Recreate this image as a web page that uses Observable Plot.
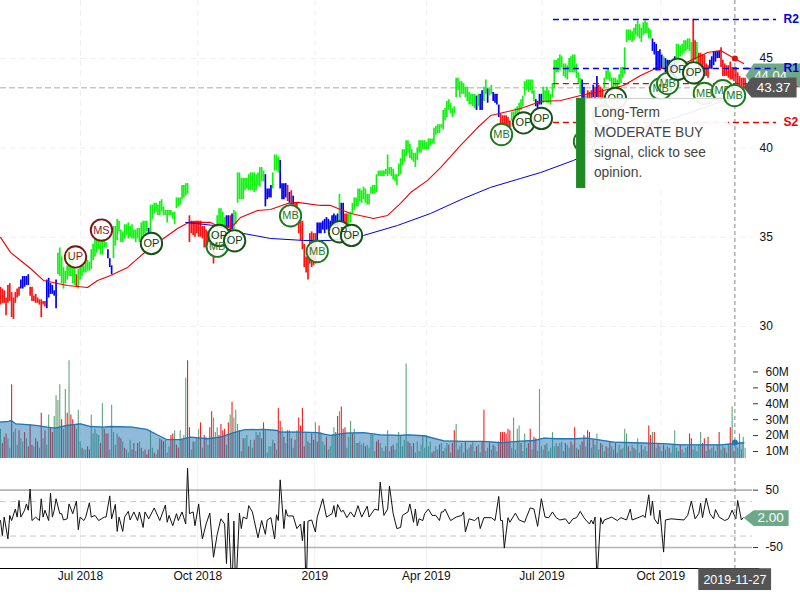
<!DOCTYPE html>
<html><head><meta charset="utf-8">
<style>
html,body{margin:0;padding:0;background:#fff}
#wrap{position:relative;width:800px;height:600px;overflow:hidden;font-family:"Liberation Sans",Arial,sans-serif}
#wrap>div{position:absolute;left:0}
svg{display:block}
</style>
<script src="https://cdn.jsdelivr.net/npm/d3@7"></script>
<script src="https://cdn.jsdelivr.net/npm/@observablehq/plot@0.6"></script>
</head><body>
<div id="wrap"><div id="osc" style="top:460px"></div><div id="vol" style="top:360px"></div><div id="price" style="top:0"></div></div>
<script>
const highs=[
32.2,32.1,32.0,31.6,32.3,32.4,31.9,31.6,31.9,32.1,
32.2,32.6,32.8,32.8,32.8,32.9,32.2,32.2,31.7,31.8,
31.6,31.5,31.5,31.4,31.4,32.6,32.7,32.4,32.3,32.0,
32.6,34.1,34.4,33.9,33.3,33.1,33.4,34.3,34.3,33.7,
33.3,32.9,33.2,33.5,33.6,33.4,33.7,33.7,33.6,34.3,
34.6,34.9,34.9,34.9,34.7,34.9,34.8,34.7,34.3,33.8,
33.4,35.6,35.6,36.0,35.9,35.4,35.3,35.7,35.7,35.8,
35.6,35.7,35.4,35.4,35.5,35.5,35.8,35.9,35.9,35.9,
35.5,36.8,36.8,36.9,36.9,36.8,37.0,37.1,36.7,36.5,
36.5,36.5,36.5,36.4,36.4,37.2,37.2,37.2,37.9,37.9,
38.0,38.0,36.2,35.9,35.9,35.9,35.9,35.9,35.9,35.6,
35.6,35.4,35.3,35.2,35.2,34.4,34.9,36.2,36.6,36.6,
36.4,36.1,36.2,36.2,36.2,36.3,36.5,36.4,38.6,38.6,
38.3,38.3,38.3,38.3,38.5,38.6,38.6,38.6,38.5,38.6,
38.9,38.9,38.7,38.5,37.7,37.7,37.9,38.6,39.6,39.6,
39.5,39.3,38.0,38.0,38.0,37.9,37.5,37.6,37.3,36.9,
36.9,35.9,35.9,35.9,34.6,33.9,34.3,35.2,35.3,35.2,
35.2,35.8,35.8,35.8,35.9,36.0,36.1,36.0,35.9,36.2,
36.3,36.2,36.3,37.4,36.9,36.9,36.3,36.3,36.3,36.4,
36.9,37.2,37.2,37.7,37.7,37.6,37.8,37.7,37.4,37.4,
37.8,37.9,37.9,38.5,38.7,38.7,38.7,38.7,38.8,39.6,
38.9,38.9,38.8,38.5,38.5,39.1,39.4,39.9,39.9,40.4,
40.4,40.2,39.9,39.7,39.7,40.0,40.4,40.4,40.4,40.4,
40.3,40.5,40.5,40.5,41.1,41.2,41.3,41.3,41.3,42.1,
42.2,42.6,42.7,42.5,42.2,42.3,43.9,43.9,43.7,43.7,
43.6,43.4,43.4,43.1,43.0,43.0,43.0,42.9,43.0,43.0,
43.2,43.4,43.8,43.3,43.3,43.5,43.1,43.0,43.0,42.4,
41.9,41.8,41.8,41.8,41.7,41.5,42.0,42.0,42.2,42.3,
42.5,42.7,42.9,43.7,43.8,43.8,43.8,43.8,43.2,42.7,
42.6,43.0,43.0,43.4,43.2,43.4,43.2,43.0,43.6,44.9,
44.9,45.0,45.2,45.1,44.7,44.7,44.6,45.0,45.1,45.2,
45.2,44.7,44.2,43.9,43.8,43.4,42.9,43.2,43.1,43.2,
43.5,43.4,44.0,43.5,43.4,43.3,43.9,44.3,44.4,44.2,
43.9,43.9,43.9,43.8,44.1,44.5,44.5,45.6,46.6,46.6,
46.6,46.5,46.7,46.9,47.1,46.9,46.7,47.0,47.1,47.0,
46.7,46.6,46.1,45.9,45.8,45.4,45.5,45.2,45.1,45.0,
44.9,44.9,44.7,44.7,45.1,45.8,45.8,45.7,45.8,46.0,
46.0,46.1,46.1,45.9,47.2,46.0,45.9,45.3,45.3,45.2,
45.2,44.7,44.6,44.9,45.1,45.4,45.4,45.4,45.4,45.6,
44.9,44.7,44.6,44.6,44.8,44.5,44.5,44.5,44.2,44.0,
43.9,43.9,43.9];
const lows=[
31.2,31.3,31.3,30.6,31.3,31.4,30.5,30.4,31.3,31.6,
31.7,32.1,32.1,32.2,32.3,32.3,31.7,31.4,31.4,31.3,
31.3,31.2,30.5,31.2,31.1,31.0,31.6,31.8,31.8,31.7,
31.0,32.9,32.8,32.4,32.1,32.4,32.6,32.8,32.8,32.4,
32.3,32.2,32.1,32.6,32.8,33.0,33.0,33.1,33.1,33.2,
33.7,33.9,34.1,34.3,34.0,34.0,34.4,34.4,33.8,33.3,
32.9,33.8,34.5,34.8,35.3,34.7,34.7,34.9,35.1,34.9,
35.0,34.9,34.9,34.7,34.9,34.7,34.8,35.1,35.2,35.3,
35.2,35.2,36.0,36.3,36.4,36.2,36.2,36.4,36.2,36.2,
35.8,36.2,36.2,36.0,35.7,36.6,36.7,36.8,37.1,37.2,
37.3,37.4,34.7,35.2,35.1,35.0,35.2,35.0,35.0,34.9,
34.4,34.4,34.4,34.4,34.2,33.5,34.3,35.0,35.6,35.7,
35.5,35.4,35.5,35.5,35.3,35.4,35.4,35.7,36.9,37.1,
37.1,37.1,37.6,37.7,37.6,37.6,37.6,37.5,37.6,37.9,
37.8,38.1,38.1,36.7,37.1,37.2,37.2,37.7,38.7,38.7,
38.6,37.7,37.1,37.1,37.2,37.0,36.9,36.7,36.8,36.1,
36.0,35.2,34.8,34.3,33.3,33.0,32.6,33.5,33.3,33.4,
33.5,34.8,35.2,35.2,35.4,35.2,35.4,35.4,35.4,35.6,
35.6,35.6,35.4,35.6,35.8,35.6,35.4,35.5,35.2,35.8,
36.3,36.5,36.7,36.7,37.0,36.9,37.1,36.9,36.8,36.8,
37.4,37.4,37.4,37.5,38.4,38.4,38.4,38.4,38.5,38.4,
38.5,38.4,38.2,38.1,37.9,38.4,38.5,39.0,39.2,39.5,
39.7,39.4,39.3,39.2,38.9,39.3,39.7,39.7,39.9,39.9,
39.9,39.9,40.1,40.2,40.2,40.7,40.8,40.8,41.1,41.0,
41.5,41.7,42.1,41.9,41.7,41.9,42.8,43.2,42.8,43.0,
43.0,42.8,42.6,42.4,42.4,42.3,42.2,42.1,42.3,42.1,
42.1,42.6,43.0,42.5,42.9,43.0,42.6,42.5,42.4,41.7,
41.3,41.3,41.2,41.2,41.1,41.1,41.5,41.5,41.7,41.9,
42.0,42.1,42.3,42.9,43.2,43.1,43.2,43.0,42.6,42.3,
42.2,42.4,42.4,42.5,42.6,42.5,42.5,42.4,42.8,43.3,
44.2,44.2,44.3,44.5,44.0,43.9,43.8,44.2,44.2,44.2,
44.2,43.9,43.6,43.0,42.7,42.7,42.5,42.7,42.7,42.7,
42.8,42.65,42.8,42.8,42.8,42.8,43.3,43.8,43.8,43.7,
43.0,43.3,43.4,43.3,43.5,43.6,43.9,44.1,45.9,46.0,
46.0,45.9,46.0,46.3,46.2,46.1,45.9,46.3,46.4,46.4,
46.1,46.1,45.4,45.2,44.3,44.3,44.3,44.4,44.4,44.2,
44.2,44.2,44.1,44.1,44.5,44.6,44.7,45.1,45.2,45.3,
45.4,45.5,45.4,44.7,44.8,44.9,44.7,44.1,44.3,44.1,
44.0,44.0,43.9,44.4,44.4,44.6,44.8,45.0,45.0,44.5,
44.0,44.0,44.0,43.9,43.8,43.8,43.7,43.6,43.5,43.4,
43.4,43.3,43.3];
// first bar of each colour run, and its colour
const runStart=[0,11,16,25,31,41,42,58,61,80,81,102,117,122,124,125,126,143,147,151,155,156,157,158,159,171,183,184,186,188,257,258,259,261,263,264,266,270,276,289,293,314,316,317,320,321,322,323,326,352,358,359,365,374,376,377,383,389];
const runColor="r b r b g r g b g b g r g b r b g b g b r b r b r b g b r g b g b g b g b r g b g b g r b r b r g b g b g r g r b r".split(" ");
const barColors={r:"#ff1212",g:"#12f212",b:"#0000f0"};
// moving averages: bar number and price
const maRedBar=[0,5.4,10.8,16.2,23.2,30.8,36.2,47,52.4,59.4,68.6,77.2,88,95.6,101.5,113.4,118.8,125.8,129.6,138.8,145.8,155,160.4,172.8,178.2,189,201.4,209,216,221.4,230.6,237.6,248.4,257.6,264.6,271.6,280.8,291.6,302.4,313.2,325.6,336.4,345.6,353.7,363.4,372.6,381.8,388.8,396.3,401.2];
const maRedVal=[34.99,34.15,33.7,33.25,32.58,32.41,32.3,32.19,32.58,32.86,33.31,34.09,34.93,35.49,35.83,35.83,35.55,35.66,36.11,36.5,36.55,36.89,36.95,36.78,36.78,36.33,36.05,36.22,36.89,37.5,38.18,38.9,40.14,41.14,41.81,41.98,42.21,42.6,42.65,42.93,43.21,43.49,44.05,44.44,44.44,44.89,45.34,45.45,45.0,44.72];
const maBlueBar=[100,115,131.2,145.8,163.6,178.2,196,214.4,232.2,250,264.6,280.8,291.6,309.4,318.6,327.8,351,372.6,390.4,402.3];
const maBlueVal=[35.83,35.66,35.21,34.93,34.82,34.82,35.1,35.66,36.33,37.17,37.79,38.29,38.62,39.3,39.74,40.42,41.26,41.98,42.65,43.05];
// signal badges
const sigText=["UP","MS","OP","MB","OP","OP","MB","MB","OP","OP","MB","OP","OP","MB","OP","OP","MB","MB","OP","OP","MB","MB","MB"];
const sigBar=[40.5,54.5,81.5,117,118,126.4,156.6,171,183,189.5,270.5,282.4,292,315.3,325.6,332,356.4,360.2,365.6,374.2,380,389.9,396.3];
const sigPrice=[33.9,35.4,34.65,34.5,35.1,34.8,36.2,34.2,35.3,35.1,40.75,41.4,41.65,40.36,41.8,42.77,43.3,43.6,44.4,44.2,43.05,43.2,42.93];
// volume in millions; a negative number is a down day
const volumes=[
24,-15,-19,-21,18,12,-52,22,24,14,
-23,18,16,-22,18,-13,-27,-14,13,-18,
-16,12,-34,18,-23,14,33,-25,-22,32,
45,42,52,-30,24,49,-34,67,-33,-30,
-27,24,36,16,-12,11,11,-13,-11,33,
21,24,21,20,-15,40,-24,-21,-21,11,
39,22,14,21,-19,-18,16,-12,11,9,
17,-11,-15,10,-15,16,-12,10,-11,-8,
-11,23,12,-9,8,-11,-18,-17,-16,17,
9,13,-20,-21,23,-14,-12,23,-17,20,
56,-67,-25,11,-16,16,18,24,-28,12,
-20,19,14,-25,-35,31,22,25,-20,-27,
-23,-24,14,-28,33,-41,31,36,27,-23,
10,-18,18,20,-13,17,12,-17,22,-20,
22,-18,-28,23,9,13,13,17,-15,11,
-37,-29,25,-19,15,-23,23,-18,12,-17,
23,-31,-26,-37,-13,22,-16,15,-21,-17,
28,-16,-26,22,16,14,-19,11,13,20,
25,-22,-32,35,-38,-24,-25,12,19,29,
-21,24,15,-15,16,14,15,-13,14,12,
21,20,10,-16,-17,15,12,10,-13,23,
10,-13,-14,11,15,22,20,13,17,65,
-16,-15,13,-15,9,16,10,14,20,12,
20,13,16,-9,-10,13,11,-14,15,-10,
12,15,-14,9,-15,-23,27,-11,13,15,
9,-16,11,12,-14,16,10,-13,14,9,
-16,-36,10,12,-15,11,-14,13,10,-16,
-22,-22,-22,-21,-24,-23,12,31,11,24,
26,-15,10,21,12,-15,-24,11,-19,-18,
10,49,13,11,-14,15,10,12,22,13,
15,-13,15,16,10,-15,14,12,-16,14,
-25,12,-11,14,-16,-20,13,-23,-22,12,
-17,14,21,11,-15,14,10,-13,12,-16,
13,11,-15,9,14,-11,12,24,21,-13,
10,14,-12,11,18,9,-14,11,13,10,
-26,-20,22,-22,12,-15,13,10,-14,11,
13,-12,9,14,23,12,10,-14,11,9,
12,-13,-21,-18,11,13,10,14,22,-15,
-18,10,-19,11,12,13,10,14,-22,11,
13,-12,9,14,-25,38,-10,13,12,21,
11,19,12];
const volSmaBar=[0,4.5,5.8,8.1,12.6,19,21.6,25.2,29.7,36,43.2,48.6,55.8,59.4,71,79,84.6,90,97,102.6,111.6,118.8,126,132,142,149.4,151,162,171,178,187,196,205,216,219.6,228.6,239.4,250,261,270,279,288,293.4,300.6,309.6,316.8,331,342,358,367,381.6,389,401.4];
const volSmaVal=[28.5,28.9,29.5,27.4,27,26.4,26,25.3,24.7,26.4,27.4,25.7,25.3,25.7,25.3,23.9,20.5,17.4,17.4,19,18,19,21.8,23.7,23.9,23.2,22.2,22.2,21.8,20.1,21.6,21.8,20.5,20.1,20.5,19.9,16.7,16.3,16.3,15.5,16.3,16.9,18.4,18,18,18.4,15.9,15.5,14.9,14.2,14.2,14.2,15.5];
// lower oscillator: bar number and value
const oscBar=[0,1,2,4,5,6,8,9,10,11,13,14,15,16,17,19,21,22,23,24,26,27,28,29,30,32,33,34,36,37,39,41,42,43,45,46,48,49,51,53,56,57,59,60,62,63,64,66,67,69,70,72,74,75,77,78,80,83,86,89,90,91,93,95,96,98,100,101,102,104,105,107,108,109,111,113,115,117,119,121,122,123,125,126,127,129,130,131,133,134,136,137,139,141,143,144,146,148,149,150,151,153,154,155,158,160,162,163,164,165,166,168,170,171,174,176,179,180,181,182,184,185,187,189,191,193,195,198,199,202,204,205,207,209,210,212,214,216,
217,220,221,223,224,225,226,228,229,231,233,235,237,238,239,240,243,246,249,250,251,253,256,258,259,261,265,267,269,270,271,272,274,275,278,280,283,284,286,288,290,292,294,296,298,300,302,305,307,309,311,313,315,316,318,319,320,321,322,324,325,326,330,333,335,338,340,341,345,347,348,350,351,352,353,355,356,358,359,362,369,371,373,375,377,378,379,381,383,385,386,388,391,393,395,397,398,400,401];
const oscVal=[-3,-29,3,-35,6,-3,17,3,32,3,15,26,15,52,-3,3,-3,35,3,15,-3,45,3,15,35,9,9,-2,0,26,9,31,-19,3,-3,3,28,3,6,-3,3,3,40,0,25,-22,3,-22,3,13,-2,12,-3,12,-15,12,0,19,-3,24,-6,6,-12,9,-3,12,-9,88,9,12,-12,26,-9,-35,-9,10,-67,-27,0,-9,-78,10,-130,-4,-130,10,-17,3,0,23,12,-3,-33,-3,-27,-2,2,-35,7,-3,68,-17,16,5,5,-17,-9,-38,-4,-130,-4,-2,-23,3,35,3,9,23,3,25,12,15,2,12,3,23,3,22,3,17,15,64,6,17,57,9,-17,-15,
6,12,26,-6,17,-12,0,-3,9,17,6,6,-3,12,12,17,-3,3,6,12,-23,0,-3,3,-17,2,2,-3,39,-3,-3,-51,2,-6,10,-2,-6,3,19,17,-13,35,3,2,12,2,-2,0,-9,0,2,13,2,-2,-9,-2,-9,3,-110,2,-9,-2,3,-3,2,-2,17,-2,3,6,2,42,6,31,0,-9,15,-58,-2,0,-2,6,31,0,9,27,2,36,9,0,16,3,-3,0,15,0,32,-2,2];
const priceTicks=[30,35,40,45], volTicks=[10,20,30,40,50,60], oscTicks=[50,-50];
const xTickBars=[43.2,106.5,169.7,229.9,292.3,356.5], xTickLabels=["Jul 2018","Oct 2018","2019","Apr 2019","Jul 2019","Oct 2019"];
const levelNames=["R2","R1","S1","S2"], levelPrices=[47.19,44.44,43.6,41.42], levelColors=["#0000e0","#0000e0","#f00000","#f00000"];
const opinionLines=["Long-Term","MODERATE BUY","signal, click to see","opinion."], opinionPrices=[41.98,40.86,39.74,38.62];
const lastDate="2019-11-27", cursorBar=396.5, lastClose=43.37, longTag=44.04, oscLast=2.00;

const bars=d3.range(highs.length);
const colorAt=i=>barColors[runColor[d3.bisectRight(runStart,i)-1]];
const sig=sigText.map((t,i)=>({t,x:sigBar[i],y:sigPrice[i],red:t==="UP"||t==="MS",op:t==="OP"}));
const sigBefore=sig.slice(0,-1), sigLast=sig.slice(-1);
const sigMarks=d=>[
 Plot.dot(d,{x:"x",y:"y",r:10.7,fill:"white",fillOpacity:0.85,strokeWidth:1.9,stroke:s=>s.red?"#7d1414":s.op?"#145214":"#1c7a1c"}),
 Plot.text(d,{x:"x",y:"y",text:"t",fontSize:11,fill:s=>s.red?"#8c1c1c":s.op?"#0e400e":"#1c7a1c"})];
const px=d=>d[0], py=d=>d[1];
const size={width:800,marginLeft:0,marginRight:48,marginTop:0,style:{fontFamily:'"Liberation Sans",Arial,sans-serif',fontSize:"12px",background:"transparent",overflow:"visible",color:"#111"}};
const xs={domain:[0,406],axis:null,label:null};

const price=Plot.plot({...size,height:360,marginBottom:0,
 x:xs,y:{domain:[28.1,48.25],axis:null,label:null},color:{type:"identity"},
 marks:[
 Plot.gridX(xTickBars,{stroke:"#f0f0f0",strokeOpacity:1,strokeDasharray:"6,4"}),
 Plot.gridY(priceTicks,{stroke:"#f0f0f0",strokeOpacity:1,strokeDasharray:"6,4"}),
 Plot.axisY(priceTicks,{anchor:"right",label:null,tickSize:0,tickPadding:7,fontSize:12,fill:"#111"}),
 Plot.ruleY([lastClose],{x1:0,x2:403,stroke:"#c8c8c8",strokeWidth:1.5,strokeDasharray:"6,3"}),
 Plot.ruleX(bars,{x:i=>i,y1:i=>lows[i],y2:i=>highs[i],stroke:colorAt,strokeWidth:1.7}),
 Plot.line(maRedBar,{x:d=>d,y:(d,i)=>maRedVal[i],stroke:"#f00000",strokeWidth:1.1}),
 Plot.line(maBlueBar,{x:d=>d,y:(d,i)=>maBlueVal[i],stroke:"#0000e0",strokeWidth:1}),
 Plot.ruleX([cursorBar],{stroke:"#888",strokeWidth:1,strokeDasharray:"4,3"}),
 Plot.dot([cursorBar],{x:d=>d,y:[45.0],r:3,fill:"#e01010"}),
 Plot.ruleY(levelPrices,{x1:298.5,x2:419,y:d=>d,stroke:(d,i)=>levelColors[i],strokeWidth:1.4,strokeDasharray:"6,4"}),
 ...sigMarks(sigBefore),
 Plot.rect([0],{x1:311,x2:393,y1:37.73,y2:42.77,fill:"white",fillOpacity:0.92}),
 Plot.ruleY([42.77],{x1:311,x2:393,stroke:"#ccc"}),
 Plot.rect([0],{x1:311,x2:316,y1:37.73,y2:42.77,fill:"#1f8a24"}),
 Plot.text(opinionLines,{x:320.4,y:(d,i)=>opinionPrices[i],text:d=>d,textAnchor:"start",fontSize:13.8,fill:"#444"}),
 ...sigMarks(sigLast),
 Plot.line([[402.3,longTag],[406.6,44.72],[432,44.72],[432,43.38],[406.6,43.38]],{x:px,y:py,curve:"linear-closed",fill:"#6fa889",stroke:null}),
 Plot.text([longTag],{x:415.8,y:d=>d,text:d=>d.toFixed(2),fill:"white",fontSize:13}),
 Plot.ruleY([levelPrices[1]],{x1:402,x2:419,stroke:"#0000e0",strokeWidth:1.4,strokeDasharray:"6,4"}),
 Plot.text(levelNames,{x:422.8,y:(d,i)=>levelPrices[i],text:d=>d,textAnchor:"start",fontWeight:"bold",fontSize:12,fill:(d,i)=>levelColors[i]}),
 Plot.line([[401.2,lastClose],[405.5,43.94],[429.8,43.94],[429.8,42.82],[405.5,42.82]],{x:px,y:py,curve:"linear-closed",fill:"#555",stroke:null}),
 Plot.text([lastClose],{x:417.4,y:d=>d,text:d=>d.toFixed(2),fill:"white",fontSize:13.5})
 ]});
document.getElementById("price").append(price);

const volBase=5.6;
const vol=Plot.plot({...size,height:100,marginBottom:0,
 x:xs,y:{domain:[4.34,67.2],axis:null,label:null},color:{type:"identity"},
 marks:[
 Plot.gridX(xTickBars,{stroke:"#f0f0f0",strokeOpacity:1,strokeDasharray:"6,4"}),
 Plot.axisY(volTicks,{anchor:"right",label:null,tickSize:5,tickPadding:8,fontSize:12,stroke:"#333",fill:"#111",tickFormat:d=>d+"M"}),
 Plot.ruleX(bars,{x:i=>i,y1:volBase,y2:i=>Math.abs(volumes[i]),stroke:i=>volumes[i]<0?"#f02020":"#5fa47a",strokeWidth:1.1}),
 Plot.areaY(volSmaBar,{x:d=>d,y1:volBase,y2:(d,i)=>volSmaVal[i],fill:"#1f77b4",fillOpacity:0.5}),
 Plot.line(volSmaBar,{x:d=>d,y:(d,i)=>volSmaVal[i],stroke:"#1f77b4",strokeWidth:1.3}),
 Plot.ruleX([cursorBar],{stroke:"#888",strokeWidth:1,strokeDasharray:"4,3"}),
 Plot.dot([cursorBar],{x:d=>d,y:[15.7],r:3,fill:"#1f77b4"})
 ]});
document.getElementById("vol").append(vol);

const osc=Plot.plot({...size,height:140,marginBottom:32,
 x:xs,y:{domain:[-86.6,101.7],axis:null,label:null},color:{type:"identity"},
 marks:[
 Plot.gridX(xTickBars,{stroke:"#f0f0f0",strokeOpacity:1}),
 Plot.ruleY(oscTicks,{x1:0,x2:406,stroke:"#b4b4b4",strokeWidth:1.6}),
 Plot.ruleY([30,-30],{x1:0,x2:406,stroke:"#c8c8c8",strokeWidth:1,strokeDasharray:"6,4"}),
 Plot.axisY(oscTicks,{anchor:"right",label:null,tickSize:5,tickPadding:8,fontSize:12,stroke:"#333",fill:"#111",tickFormat:d=>String(d)}),
 Plot.axisX(xTickBars,{anchor:"bottom",label:null,tickSize:0,tickPadding:3,fontSize:12,fill:"#111",tickFormat:d=>xTickLabels[xTickBars.indexOf(d)]}),
 Plot.line(oscBar,{x:d=>d,y:(d,i)=>oscVal[i],stroke:"#111",strokeWidth:1,clip:true}),
 Plot.ruleX([cursorBar],{stroke:"#888",strokeWidth:1,strokeDasharray:"4,3"}),
 Plot.ruleY([-86.6],{x1:0,x2:410,stroke:"#000",strokeWidth:1.2}),
 Plot.line([[401.2,oscLast],[406.6,15],[425.5,15],[425.5,-12.5],[406.6,-12.5]],{x:px,y:py,curve:"linear-closed",fill:"#6fa889",stroke:null}),
 Plot.text([oscLast],{x:415.8,y:d=>d-0.5,text:d=>d.toFixed(2),fill:"white",fontSize:13.5}),
 Plot.rect([0],{x1:377,x2:416.3,y1:-87,y2:-125,fill:"#555"}),
 Plot.text([lastDate],{x:cursorBar,y:[-106],text:d=>d,fill:"white",fontSize:12.5})
 ]});
document.getElementById("osc").append(osc);
</script>
</body></html>
